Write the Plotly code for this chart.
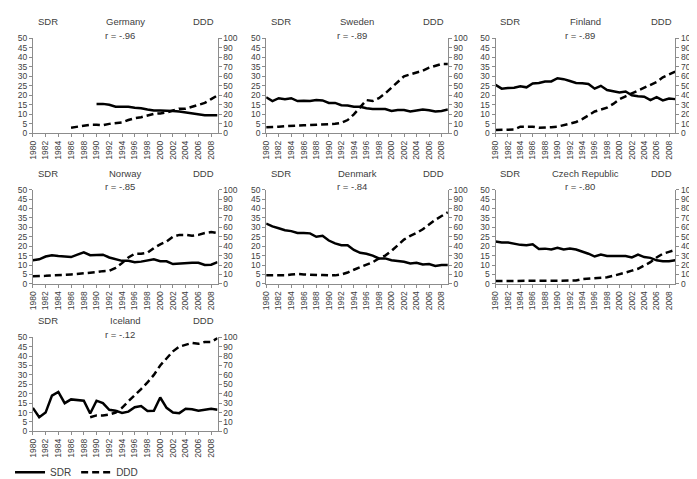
import plotly.graph_objects as go

# Years on the category axis
years = list(range(1980, 2010))

countries = ["Germany", "Sweden", "Finland", "Norway", "Denmark", "Czech Republic", "Iceland"]
r_labels = ["r = -.96", "r = -.89", "r = -.89", "r = -.85", "r = -.84", "r = -.80", "r = -.12"]

# SDR (left axis) and DDD (right axis) per country, None where no data
germany_sdr = [None] * 10 + [15.5, 15.5, 15, 14, 14, 14, 13.5, 13.2, 12.5, 12,
                             12, 12, 11.8, 11.5, 11, 10.5, 10, 9.5, 9.5, 9.5]
germany_ddd = [None] * 6 + [6, 7, 8.5, 9, 9, 8.5, 10, 10.5, 11.5, 14, 16, 17,
                            18.5, 20.5, 21, 22, 24, 26, 26, 28, 29.5, 32, 36, 40]

sweden_sdr = [19, 17, 18.5, 18, 18.5, 17, 17.2, 17, 17.5, 17.3, 16, 16, 14.8, 14.7, 14,
              14, 13.2, 12.8, 12.8, 12.8, 11.8, 12.3, 12.3, 11.5, 12, 12.5, 12.2, 11.5, 11.8, 12.5]
sweden_ddd = [6.5, 6.5, 7, 7.5, 8, 8.3, 8.5, 8.7, 9, 9, 9.5, 10, 11, 14, 20,
              28, 35, 34, 37, 42, 48, 55, 60, 62, 64, 66, 69, 71, 73, 73]

finland_sdr = [25.5, 23.5, 23.8, 24, 24.8, 24.2, 26.2, 26.5, 27.3, 27.3, 29, 28.5, 27.5, 26.5, 26.3,
               26, 23.5, 25, 22.8, 22.3, 21.5, 22, 20, 19.5, 19.3, 17.5, 19, 17.3, 18.3, 18]
finland_ddd = [3.5, 3.5, 4, 4, 7, 7, 7, 6, 6, 6.5, 7, 8.5, 10, 12, 15,
               19, 23, 25, 27, 31, 36, 39, 42, 45, 48, 51, 54, 59, 62, 65]

norway_sdr = [12.5, 13, 14.5, 15.2, 14.8, 14.3, 14.2, 15.5, 16.7, 15.2, 15.2, 15.5, 14, 13, 12.2,
              12.2, 11.5, 11.8, 12.3, 13, 12, 12, 10.5, 10.8, 11.3, 11.2, 11.2, 10, 10.2, 11.5]
norway_ddd = [8, 8, 8.5, 9, 9, 9.5, 10, 10.5, 11, 11.5, 12.5, 13.5, 14, 17, 22,
              28, 32, 32, 33, 38, 42, 45, 50, 52, 52, 51, 52, 54, 55, 54]

denmark_sdr = [32, 30.5, 29.5, 28.5, 28, 27, 27, 26.8, 25, 25.5, 23, 21.5, 20.5, 20.5, 18,
               16.5, 16, 15, 13.5, 13.5, 12.5, 12.2, 11.7, 10.8, 11.2, 10.3, 10.5, 9.5, 10, 10]
denmark_ddd = [9, 9, 9, 9, 10, 10.5, 10, 9.5, 9.5, 9.3, 9, 9, 10, 12, 15,
               17.5, 20, 23, 27, 30, 35, 41, 47, 51, 54, 58, 63, 68, 72, 76]

czech_sdr = [22.5, 22, 22, 21.3, 20.7, 20.5, 21, 18.5, 18.7, 18.3, 19.2, 18.3, 18.8, 18.2, 17.3,
             16, 14.5, 15.5, 14.8, 14.7, 15, 14.8, 14, 15.5, 14.2, 13.8, 12.5, 12, 12, 12.5]
czech_ddd = [3, 3, 2.8, 3, 3, 3, 3, 3, 3, 3, 3, 3, 3, 3.5, 5,
             5.5, 5.5, 6, 7, 8.5, 10, 12, 14, 16, 19.5, 23, 28, 32, 34, 36]

iceland_sdr = [12.5, 7.5, 10, 19, 21, 15, 17, 16.5, 16.3, 9.5, 16.3, 15, 11.5, 11, 9.8,
               10.5, 12.8, 13.5, 10.8, 11, 18, 12.5, 10, 9.7, 12, 11.8, 11, 11.5, 12, 11.5]
iceland_ddd = [None] * 9 + [15, 17, 17, 18, 20, 25, 32, 38, 45, 52, 60, 70,
                            78, 85, 90, 92, 94, 93, 95, 95, 99]

sdr_series = [germany_sdr, sweden_sdr, finland_sdr, norway_sdr, denmark_sdr, czech_sdr, iceland_sdr]
ddd_series = [germany_ddd, sweden_ddd, finland_ddd, norway_ddd, denmark_ddd, czech_ddd, iceland_ddd]

# Panel placement in pixels (figure is 697 x 479)
W, H = 697, 479
col_px = [(20, 206), (255, 438), (486, 667)]
row_px = [(26, 124), (182, 279), (334, 431)]

FONT = "Liberation Sans, Arial, sans-serif"
TXT = "#404040"
AX = "#8c8c8c"
TICK_SIZE = 8.5


def px_x(v):
    return v / W


def px_y(v):
    return 1 - v / H


fig = go.Figure()
layout = dict(
    width=W, height=H,
    margin=dict(l=0, r=0, t=0, b=0),
    paper_bgcolor="white", plot_bgcolor="white",
    font=dict(family=FONT, size=9, color=TXT),
    showlegend=True,
    legend=dict(orientation="h", x=px_x(-3), y=px_y(473), xanchor="left", yanchor="middle",
                font=dict(size=10, color=TXT), itemwidth=30, tracegroupgap=0,
                bgcolor="rgba(0,0,0,0)"),
)
annotations = []

for i, name in enumerate(countries):
    row, col = divmod(i, 3)
    x0, x1 = col_px[col]
    y0, y1 = row_px[row]
    n = i + 1
    xa = "x" if n == 1 else f"x{n}"
    ya_l = f"y{2 * i + 1}" if i > 0 else "y"
    ya_r = f"y{2 * i + 2}"

    axis_style = dict(showline=True, linecolor=AX, linewidth=1, ticks="outside", ticklen=3,
                      tickcolor=AX, showgrid=False, zeroline=False,
                      tickfont=dict(size=TICK_SIZE, color=TXT))

    layout[f"xaxis{'' if n == 1 else n}"] = dict(
        domain=[px_x(x0), px_x(x1)], anchor=ya_l,
        range=[1980, 2009], tick0=1980, dtick=2, tickangle=-90, **axis_style,
    )
    layout[f"yaxis{'' if i == 0 else 2 * i + 1}"] = dict(
        domain=[px_y(y1), px_y(y0)], anchor=xa,
        range=[0, 50], dtick=5, **axis_style,
    )
    layout[f"yaxis{2 * i + 2}"] = dict(
        domain=[px_y(y1), px_y(y0)], anchor=xa, overlaying=ya_l, side="right",
        range=[0, 100], dtick=10, **axis_style,
    )

    fig.add_trace(go.Scatter(
        x=years, y=sdr_series[i], xaxis=xa, yaxis=ya_l, mode="lines", name="SDR",
        line=dict(color="black", width=2.5), showlegend=(i == 0), connectgaps=False,
    ))
    fig.add_trace(go.Scatter(
        x=years, y=ddd_series[i], xaxis=xa, yaxis=ya_r, mode="lines", name="DDD",
        line=dict(color="black", width=2.5, dash="7px,4px"), showlegend=(i == 0), connectgaps=False,
    ))

    # Panel labels: SDR, country, DDD and correlation
    cx = (x0 + x1) / 2
    for text, xpos in [("SDR", x0 + 15), (name, cx), ("DDD", x1 - 14)]:
        annotations.append(dict(text=text, x=px_x(xpos), y=px_y(y0 - 17), xref="paper", yref="paper",
                                showarrow=False, xanchor="center", yanchor="middle",
                                font=dict(size=9.5, color=TXT)))
    annotations.append(dict(text=r_labels[i], x=px_x(cx - 5), y=px_y(y0 - 3), xref="paper", yref="paper",
                            showarrow=False, xanchor="center", yanchor="middle",
                            font=dict(size=9.5, color=TXT)))

layout["annotations"] = annotations
fig.update_layout(**layout)

fig.write_html("out.html")
